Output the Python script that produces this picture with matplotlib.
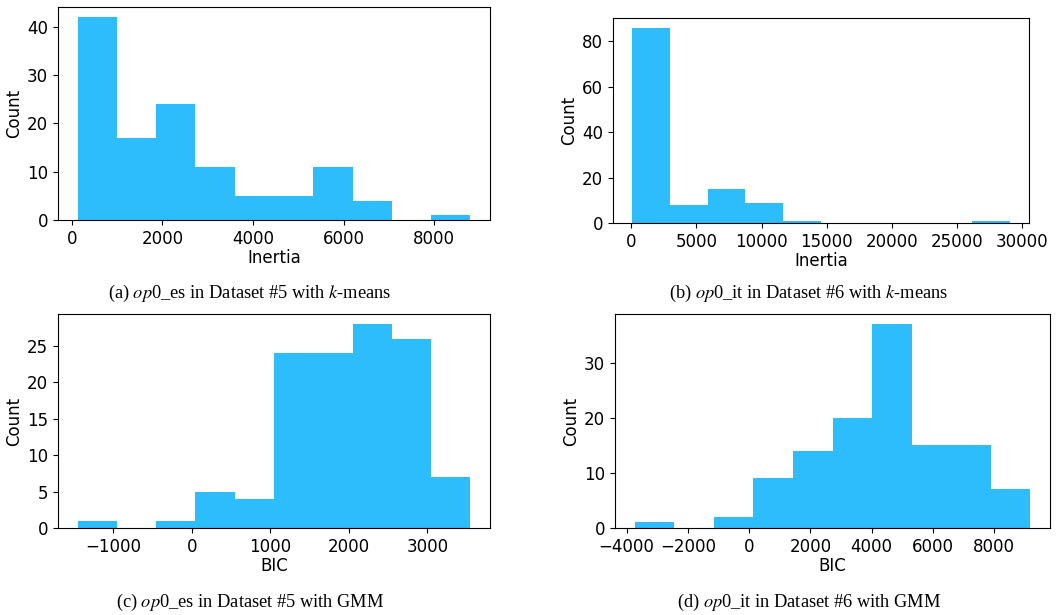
import numpy as np
import matplotlib
matplotlib.use("Agg")
import matplotlib.pyplot as plt

# ---- data ----
counts_a = [42, 17, 24, 11, 5, 5, 11, 4, 0, 1]
range_a = (132, 8794)
counts_b = [86, 8, 15, 9, 1, 0, 0, 0, 0, 1]
range_b = (50, 29080)
counts_c = [1, 0, 1, 5, 4, 24, 24, 28, 26, 7]
range_c = (-1453, 3547)
counts_d = [1, 0, 2, 9, 14, 20, 37, 15, 15, 7]
range_d = (-3731, 9172)

xlabels = ["Inertia", "Inertia", "BIC", "BIC"]
captions = [
    r"(a) $op$0_es in Dataset #5 with $k$-means",
    r"(b) $op$0_it in Dataset #6 with $k$-means",
    r"(c) $op$0_es in Dataset #5 with GMM",
    r"(d) $op$0_it in Dataset #6 with GMM",
]

plt.rcParams["font.family"] = ["DejaVu Sans"]
plt.rcParams["font.size"] = 12
plt.rcParams["mathtext.fontset"] = "stix"

W, H = 1057, 615
fig = plt.figure(figsize=(W / 100, H / 100), dpi=100)

# axes boxes in pixels: left, top, right, bottom
boxes = [(58, 7, 490, 220), (613, 18, 1029, 223), (58, 314, 490, 528), (615, 314, 1050, 528)]
caption_pos = [(250, 293), (809, 293), (250, 602), (809, 602)]
all_counts = [counts_a, counts_b, counts_c, counts_d]
all_ranges = [range_a, range_b, range_c, range_d]
color = "#2DBCFC"

for i in range(4):
    l, t, r, b = boxes[i]
    ax = fig.add_axes([l / W, 1 - b / H, (r - l) / W, (b - t) / H])
    counts = np.array(all_counts[i], dtype=float)
    edges = np.linspace(all_ranges[i][0], all_ranges[i][1], len(counts) + 1)
    ax.hist(edges[:-1], bins=edges, weights=counts, color=color)
    ax.set_xlabel(xlabels[i], labelpad=1)
    ax.set_ylabel("Count", labelpad=3)
    cx, cy = caption_pos[i]
    fig.text(cx / W, 1 - cy / H, captions[i], ha="center", va="center",
             fontsize=13.2, family="Liberation Serif")

fig.savefig("out.png", dpi=100)
